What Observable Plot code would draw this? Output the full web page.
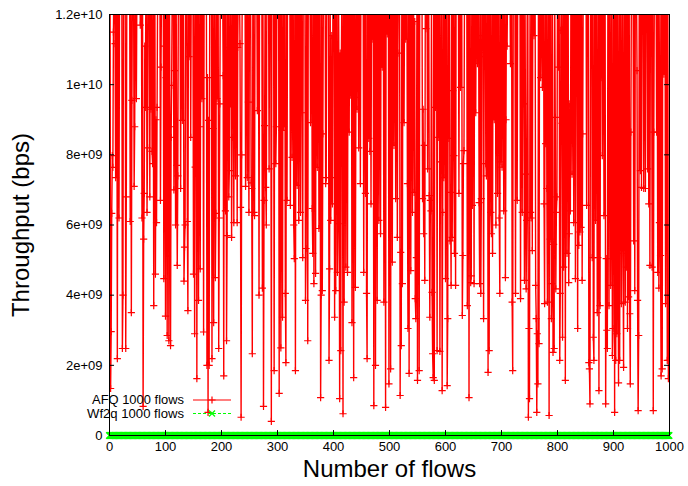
<!DOCTYPE html>
<html><head><meta charset="utf-8">
<script src="https://cdn.jsdelivr.net/npm/d3@7"></script>
<script src="https://cdn.jsdelivr.net/npm/@observablehq/plot@0.6"></script>
<style>body{margin:0;background:#fff}#chart{width:688px;height:486px}</style>
</head><body><div id="chart"></div>
<script>
const afqLabel = "AFQ 1000 flows";
const wf2qLabel = "Wf2q 1000 flows";
const xTitle = "Number of flows";
const yTitle = "Throughput (bps)";
const xTicks = [0,100,200,300,400,500,600,700,800,900,1000];
const yTicks = [0,2e9,4e9,6e9,8e9,1e10,1.2e10];
const yTickLabels = ["0","2e+09","4e+09","6e+09","8e+09","1e+10","1.2e+10"];

// AFQ throughput per flow (index = flow number), in units of 1e9 bps; 13 = above the 1.2e10 top of the plot
const afqGbps = [
13,13,1.34,2.96,6.33,7.98,7.64,11.5,13,13,11.17,7.35,13,13,2.19,13,13,6.2,13,13,
13,13,13,2.48,4.0,13,13,13,13,2.48,6.8,13,13,13,13,13,13,6.1,13,3.5,
9.55,13,13,13,7.1,8.8,13,13,9.6,13,13,13,13,13,13,11.7,13,13,6.2,13,
0.83,5.6,6.9,11.1,9.35,13,13,6.36,8.2,13,13,13,6.8,13,9.3,13,8.1,7.75,13,3.7,
13,13,4.6,9.0,6.07,9.35,13,13,13,13,13,6.7,10.5,13,13,13,13,4.47,11.1,13,
3.4,10.2,13,2.85,13,13,2.7,13,8.8,2.56,8.5,9.98,13,13,13,7.0,10.4,13,6.0,13,
7.7,4.85,7.4,13,13,13,13,7.04,13,13,8.98,13,13,4.4,5.37,6.0,13,13,13,6.1,
3.56,13,10.8,13,13,8.5,13,13,13,13,4.6,13,2.9,7.65,13,13,1.62,13,13,3.85,
13,8.8,4.75,13,13,9.6,13,13,2.95,13,13,13,13,13,2.0,10.2,0.66,8.98,2.0,13,
13,13,13,2.19,13,8.75,3.22,13,13,4.5,6.33,13,9.6,13,13,2.48,6.2,9.45,13,13,
13,13,13,10.26,1.7,13,13,6.4,13,2.7,5.7,13,13,6.8,7.55,13,9.45,13,5.65,8.5,
13,13,6.07,13,13,7.4,13,13,6.07,11.06,13,13,13,11.17,6.5,0.52,8.0,13,13,13,
13,13,13,7.1,13,13,7.35,13,9.5,6.36,13,13,13,7.2,7.04,2.33,13,13,6.36,6.27,
13,13,13,13,9.26,13,13,4.0,13,13,13,13,13,4.2,13,0.83,6.7,8.83,13,7.07,
6.0,13,13,13,13,7.6,13,13,13,0.4,13,13,13,13,1.85,13,13,7.75,8.8,13,
13,13,13,1.2,13,13,2.5,13,8.7,3.37,13,8.8,9.7,13,4.05,2.08,13,6.7,13,13,
13,13,13,6.56,13,13,7.93,13,13,6.0,5.04,13,1.85,13,13,7.13,9.98,13,6.13,13,
13,6.36,13,13,9.2,5.07,13,13,13,13,3.85,5.33,13,13,2.7,13,13,13,13,8.92,
13,13,6.47,5.19,13,4.33,13,13,4.62,13,13,7.64,13,13,5.9,13,13,1.08,4.0,13,
4.13,8.6,13,13,13,13,7.18,7.35,13,13,13,13,2.14,4.75,13,6.13,7.35,11.4,6.6,13,
13,13,3.37,13,4.13,13,13,4.65,6.04,13,8.6,1.05,10.9,2.42,10.5,13,9.3,0.62,13,3.8,
13,13,4.8,13,13,4.65,13,13,8.65,13,9.7,13,13,3.22,13,13,1.65,13,13,4.22,
9.64,13,9.3,13,13,8.2,13,13,7.18,13,13,13,13,13,4.65,13,13,6.9,13,4.05,
2.19,13,13,8.47,13,8.1,13,6.6,13,11.3,13,13,0.85,13,13,2.0,13,13,3.85,13,
13,6.13,13,13,5.75,13,13,10.5,13,13,3.8,13,13,0.8,13,13,11.45,13,13,1.47,
13,13,1.9,13,13,4.94,13,13,8.27,13,13,6.75,13,13,5.65,10.9,13,13,13,1.14,
5.22,2.56,13,4.33,13,13,8.92,13,13,11.3,13,13,7.18,3.05,13,1.77,13,13,4.7,13,
13,6.36,13,13,6.93,11.8,3.9,3.33,5.07,13,1.57,13,13,1.85,13,13,13,13,13,6.75,
9.3,5.75,8.27,4.42,13,11.6,13,13,7.6,13,13,6.84,3.37,6.7,6.4,13,4.08,2.33,1.65,13,
1.57,13,9.35,13,13,2.42,13,13,8.5,13,2.4,7.8,13,13,1.28,6.36,13,7.35,13,13,
4.47,13,13,1.42,3.33,13,8.47,13,5.55,6.93,4.28,13,5.65,9.83,13,7.98,5.19,13,4.28,13,
13,13,13,13,6.9,13,13,9.92,13,13,3.42,5.13,7.75,8.12,13,13,13,13,13,3.7,
13,13,1.08,13,13,4.36,4.55,13,6.56,13,13,4.33,13,13,9.2,13,13,10.6,13,13,
6.64,4.33,13,4.05,6.75,13,11.4,13,3.33,10.8,13,13,7.75,7.4,13,13,1.8,13,2.42,13,
13,6.36,5.75,13,5.19,13,13,9.0,13,13,6.0,13,13,6.9,13,13,6.2,4.05,13,7.8,
13,7.65,13,13,6.4,13,13,4.5,9.0,13,11.1,13,13,13,13,13,10.6,13,13,3.8,
1.85,13,13,13,13,4.05,13,13,6.7,13,13,13,13,13,3.9,13,13,6.36,13,13,
9.45,4.42,13,7.45,4.18,6.13,13,13,0.52,3.05,1.05,13,6.36,6.2,13,5.27,13,13,11.4,13,
13,4.28,3.33,0.66,2.9,1.47,13,2.62,13,13,10.2,13,13,9.92,13,13,6.6,3.76,13,8.32,
13,7.04,3.8,13,13,0.57,13,5.6,13,3.33,4.33,13,2.37,5.45,2.48,13,9.07,4.18,6.36,6.8,
13,13,10.5,13,2.14,4.05,11.55,13,8.9,2.8,13,4.8,13,13,1.57,13,13,5.19,13,13,
4.36,5.75,9.45,6.4,13,13,7.45,13,13,6.07,13,13,4.47,13,13,10.8,3.05,13,5.42,13,
5.8,13,5.93,13,4.42,8.6,13,13,13,13,13,13,6.56,13,13,13,2.08,1.9,0.9,13,
13,13,5.07,13,2.8,2.14,13,13,6.13,13,13,3.5,5.07,13,1.28,13,3.7,13,10.2,13,
7.98,13,13,6.27,13,13,0.9,5.04,3.0,2.48,13,13,3.7,13,13,4.28,7.84,13,2.28,3.05,
13,13,0.66,13,2.14,13,2.9,13,5.75,1.5,13,2.14,13,13,3.76,6.7,13,5.33,1.94,13,
13,3.8,13,4.8,13,3.05,13,3.95,13,3.47,1.47,8.65,13,13,13,13,5.55,13,4.13,13,
13,13,10.4,3.85,0.71,2.85,13,13,7.55,13,7.07,13,13,13,7.04,13,13,7.04,13,13,
13,7.6,13,6.6,13,4.85,13,13,13,4.8,13,0.71,8.65,13,13,13,13,8.65,13,4.65,
13,4.2,6.07,13,5.13,1.7,13,1.9,13,13,10.3,13,13,3.76,13,13,2.14,13,1.62,2.14
];

// Wf2q throughput per flow (index = flow number), in units of 1e9 bps
const wf2qGbps = [
0,0,0,0,0,0,0,0,0,0,0,0,0,0,0,0,0,0,0,0,0,0,0,0,0,0,0,0,0,0,0,0,0,0,0,0,0,0,0,0,0,0,0,0,0,0,0,0,0,0,
0,0,0,0,0,0,0,0,0,0,0,0,0,0,0,0,0,0,0,0,0,0,0,0,0,0,0,0,0,0,0,0,0,0,0,0,0,0,0,0,0,0,0,0,0,0,0,0,0,0,
0,0,0,0,0,0,0,0,0,0,0,0,0,0,0,0,0,0,0,0,0,0,0,0,0,0,0,0,0,0,0,0,0,0,0,0,0,0,0,0,0,0,0,0,0,0,0,0,0,0,
0,0,0,0,0,0,0,0,0,0,0,0,0,0,0,0,0,0,0,0,0,0,0,0,0,0,0,0,0,0,0,0,0,0,0,0,0,0,0,0,0,0,0,0,0,0,0,0,0,0,
0,0,0,0,0,0,0,0,0,0,0,0,0,0,0,0,0,0,0,0,0,0,0,0,0,0,0,0,0,0,0,0,0,0,0,0,0,0,0,0,0,0,0,0,0,0,0,0,0,0,
0,0,0,0,0,0,0,0,0,0,0,0,0,0,0,0,0,0,0,0,0,0,0,0,0,0,0,0,0,0,0,0,0,0,0,0,0,0,0,0,0,0,0,0,0,0,0,0,0,0,
0,0,0,0,0,0,0,0,0,0,0,0,0,0,0,0,0,0,0,0,0,0,0,0,0,0,0,0,0,0,0,0,0,0,0,0,0,0,0,0,0,0,0,0,0,0,0,0,0,0,
0,0,0,0,0,0,0,0,0,0,0,0,0,0,0,0,0,0,0,0,0,0,0,0,0,0,0,0,0,0,0,0,0,0,0,0,0,0,0,0,0,0,0,0,0,0,0,0,0,0,
0,0,0,0,0,0,0,0,0,0,0,0,0,0,0,0,0,0,0,0,0,0,0,0,0,0,0,0,0,0,0,0,0,0,0,0,0,0,0,0,0,0,0,0,0,0,0,0,0,0,
0,0,0,0,0,0,0,0,0,0,0,0,0,0,0,0,0,0,0,0,0,0,0,0,0,0,0,0,0,0,0,0,0,0,0,0,0,0,0,0,0,0,0,0,0,0,0,0,0,0,
0,0,0,0,0,0,0,0,0,0,0,0,0,0,0,0,0,0,0,0,0,0,0,0,0,0,0,0,0,0,0,0,0,0,0,0,0,0,0,0,0,0,0,0,0,0,0,0,0,0,
0,0,0,0,0,0,0,0,0,0,0,0,0,0,0,0,0,0,0,0,0,0,0,0,0,0,0,0,0,0,0,0,0,0,0,0,0,0,0,0,0,0,0,0,0,0,0,0,0,0,
0,0,0,0,0,0,0,0,0,0,0,0,0,0,0,0,0,0,0,0,0,0,0,0,0,0,0,0,0,0,0,0,0,0,0,0,0,0,0,0,0,0,0,0,0,0,0,0,0,0,
0,0,0,0,0,0,0,0,0,0,0,0,0,0,0,0,0,0,0,0,0,0,0,0,0,0,0,0,0,0,0,0,0,0,0,0,0,0,0,0,0,0,0,0,0,0,0,0,0,0,
0,0,0,0,0,0,0,0,0,0,0,0,0,0,0,0,0,0,0,0,0,0,0,0,0,0,0,0,0,0,0,0,0,0,0,0,0,0,0,0,0,0,0,0,0,0,0,0,0,0,
0,0,0,0,0,0,0,0,0,0,0,0,0,0,0,0,0,0,0,0,0,0,0,0,0,0,0,0,0,0,0,0,0,0,0,0,0,0,0,0,0,0,0,0,0,0,0,0,0,0,
0,0,0,0,0,0,0,0,0,0,0,0,0,0,0,0,0,0,0,0,0,0,0,0,0,0,0,0,0,0,0,0,0,0,0,0,0,0,0,0,0,0,0,0,0,0,0,0,0,0,
0,0,0,0,0,0,0,0,0,0,0,0,0,0,0,0,0,0,0,0,0,0,0,0,0,0,0,0,0,0,0,0,0,0,0,0,0,0,0,0,0,0,0,0,0,0,0,0,0,0,
0,0,0,0,0,0,0,0,0,0,0,0,0,0,0,0,0,0,0,0,0,0,0,0,0,0,0,0,0,0,0,0,0,0,0,0,0,0,0,0,0,0,0,0,0,0,0,0,0,0,
0,0,0,0,0,0,0,0,0,0,0,0,0,0,0,0,0,0,0,0,0,0,0,0,0,0,0,0,0,0,0,0,0,0,0,0,0,0,0,0,0,0,0,0,0,0,0,0,0,0
];

const afq = afqGbps.map((v, i) => ({flow: i, bps: v * 1e9}));
const wf2q = wf2qGbps.map((v, i) => ({flow: i, bps: v * 1e9}));

const plusSym = {draw(ctx, size) { const s = Math.sqrt(size / Math.PI);
  ctx.moveTo(-s, 0); ctx.lineTo(s, 0); ctx.moveTo(0, -s); ctx.lineTo(0, s); }};
const crossSym = {draw(ctx, size) { const s = Math.sqrt(size / Math.PI);
  ctx.moveTo(-s, -s); ctx.lineTo(s, s); ctx.moveTo(-s, s); ctx.lineTo(s, -s); }};

const font = "'Liberation Sans', Arial, Helvetica, sans-serif";
const svg = Plot.plot({
  width: 688, height: 486,
  marginLeft: 109, marginRight: 19, marginTop: 14, marginBottom: 51,
  style: {fontFamily: font, fontSize: "13px", background: "white", color: "black"},
  x: {domain: [0, 1000]},
  y: {domain: [0, 1.2e10]},
  marks: [
    Plot.line(wf2q, {x: "flow", y: "bps", stroke: "#00ff00", strokeWidth: 1.5, strokeDasharray: "3,2"}),
    Plot.dot(wf2q, {x: "flow", y: "bps", symbol: crossSym, r: 3.3, stroke: "#00ff00", fill: "none", strokeWidth: 1.5}),
    Plot.line(afq, {x: "flow", y: "bps", stroke: "#ff0000", strokeWidth: 1.4, clip: true}),
    Plot.dot(afq, {x: "flow", y: "bps", symbol: plusSym, r: 3.6, stroke: "#ff0000", fill: "none", strokeWidth: 1.2, clip: true}),
    Plot.frame({stroke: "black", strokeWidth: 1}),
    Plot.ruleY(yTicks, {y: d => d, x1: 0, x2: 9, stroke: "black"}),
    Plot.ruleY(yTicks, {y: d => d, x1: 991, x2: 1000, stroke: "black"}),
    Plot.ruleX(xTicks, {x: d => d, y1: 0, y2: 1.4e8, stroke: "black"}),
    Plot.ruleX(xTicks, {x: d => d, y1: 1.2e10 - 1.4e8, y2: 1.2e10, stroke: "black"}),
    Plot.axisY(yTicks, {tickSize: 0, tickPadding: 7, tickFormat: (d, i) => yTickLabels[i], label: null, fontSize: 13}),
    Plot.axisX(xTicks, {tickSize: 0, tickPadding: 6, tickFormat: d => String(d), label: null, fontSize: 13}),
    Plot.text([xTitle], {frameAnchor: "bottom", lineAnchor: "middle", textAnchor: "middle", dy: 34, fontSize: 24, fill: "black"}),
    Plot.text([yTitle], {frameAnchor: "left", lineAnchor: "middle", textAnchor: "middle", dx: -88, rotate: -90, fontSize: 24, fill: "black"})
  ]
});

// legend (inside the plot, lower left, gnuplot style)
const g = d3.select(svg).append("g").style("font-family", font).style("font-size", "12px");
const rows = [
  {label: afqLabel, y: 400, color: "#ff0000", dash: null, sym: "plus", len: 92},
  {label: wf2qLabel, y: 413.5, color: "#00ff00", dash: "3,2", sym: "cross", len: 97}
];
for (const r of rows) {
  g.append("text").attr("x", 184).attr("y", r.y).attr("dy", "0.35em").attr("text-anchor", "end")
    .attr("textLength", r.len).attr("lengthAdjust", "spacingAndGlyphs").attr("fill", "black").text(r.label);
  g.append("line").attr("x1", 193).attr("x2", 231).attr("y1", r.y).attr("y2", r.y)
    .attr("stroke", r.color).attr("stroke-width", 1.2).attr("stroke-dasharray", r.dash);
  const s = r.sym === "plus" ? 3.6 : 3;
  const d = r.sym === "plus"
    ? `M${212 - s},${r.y}L${212 + s},${r.y}M212,${r.y - s}L212,${r.y + s}`
    : `M${212 - s},${r.y - s}L${212 + s},${r.y + s}M${212 - s},${r.y + s}L${212 + s},${r.y - s}`;
  g.append("path").attr("d", d).attr("stroke", r.color).attr("stroke-width", 1.2).attr("fill", "none");
}
document.getElementById("chart").appendChild(svg);
</script>
</body></html>
